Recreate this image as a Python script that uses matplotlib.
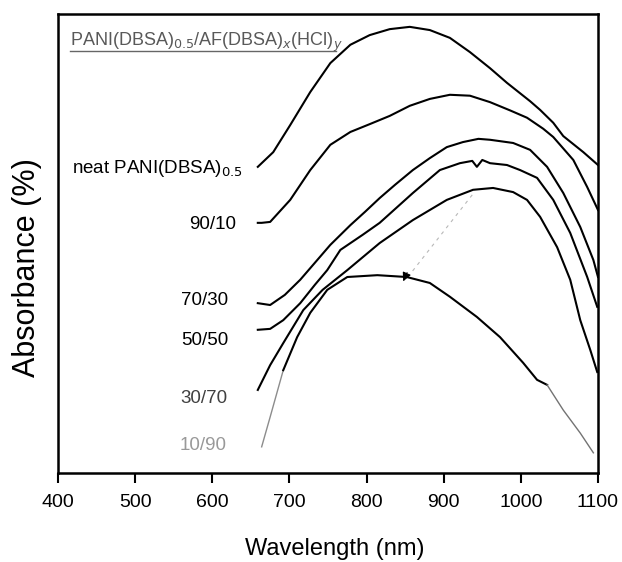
import matplotlib
matplotlib.use("Agg")
import matplotlib.pyplot as plt

# ---------------- data (wavelength in nm, absorbance in arbitrary % units) ----------------
neat_nm = [659, 679, 701, 727, 753, 779, 804, 830, 856, 882, 908, 934, 960, 982, 1012, 1025, 1042, 1055, 1081, 1100]
neat_abs = [66.7, 69.9, 75.8, 83.0, 89.3, 93.3, 95.4, 96.7, 97.2, 96.5, 94.8, 91.7, 88.2, 85.0, 81.0, 79.1, 76.3, 73.4, 69.9, 67.1]

r90_nm = [659, 664, 675, 701, 727, 753, 779, 804, 830, 856, 882, 908, 934, 960, 986, 1008, 1029, 1042, 1055, 1068, 1086, 1100]
r90_abs = [54.5, 54.5, 54.7, 59.5, 66.0, 71.5, 74.3, 76.0, 77.8, 80.0, 81.5, 82.4, 82.2, 80.8, 79.0, 77.4, 75.0, 73.2, 70.7, 68.2, 62.3, 57.3]

r70_nm = [659, 675, 694, 714, 733, 753, 779, 798, 817, 837, 860, 882, 904, 925, 945, 960, 990, 1012, 1034, 1055, 1077, 1094, 1100]
r70_abs = [37.0, 36.6, 38.8, 42.1, 45.8, 49.7, 54.0, 56.9, 59.9, 62.8, 66.0, 68.6, 71.0, 72.1, 72.8, 72.6, 71.9, 70.4, 66.7, 61.0, 53.6, 46.4, 42.7]

r50_nm = [659, 675, 692, 714, 733, 749, 766, 795, 817, 860, 895, 921, 937, 943, 950, 960, 982, 999, 1021, 1042, 1064, 1086, 1099]
r50_abs = [31.2, 31.4, 33.3, 37.0, 41.0, 44.2, 48.6, 51.9, 54.5, 61.0, 66.0, 67.5, 68.0, 66.7, 68.2, 67.5, 67.1, 66.0, 64.3, 59.5, 52.3, 42.7, 36.2]

r30_nm = [659, 675, 692, 718, 743, 775, 817, 860, 904, 938, 964, 990, 1008, 1025, 1047, 1064, 1077, 1090, 1099]
r30_abs = [18.1, 23.5, 28.3, 35.5, 39.9, 44.2, 50.1, 55.1, 59.5, 61.7, 62.1, 61.2, 59.5, 55.8, 49.2, 42.1, 33.3, 26.8, 22.0]

r10_nm = [664, 675, 692, 710, 727, 749, 775, 814, 852, 882, 908, 943, 973, 1003, 1021, 1034, 1055, 1077, 1094]
r10_abs = [5.7, 12.2, 22.4, 29.6, 34.9, 39.9, 42.7, 43.1, 42.7, 41.4, 38.4, 34.0, 29.6, 24.0, 20.3, 19.2, 13.7, 8.7, 4.4]

curve_labels = ["neat PANI(DBSA)$_{0.5}$", "90/10", "70/30", "50/50", "30/70", "10/90"]
label_nm = [640, 631, 621, 621, 620, 618]
label_abs = [65.4, 53.2, 36.6, 27.9, 15.3, 5.0]

title_text = "PANI(DBSA)$_{0.5}$/AF(DBSA)$_{x}$(HCl)$_{y}$"
arrow_tail = (937, 60.6)
arrow_head = (846, 41.2)

xticks = [400, 500, 600, 700, 800, 900, 1000, 1100]

FONT = "Liberation Sans"

fig = plt.figure(figsize=(6.22, 5.62), dpi=100)
ax = fig.add_axes([58 / 622, 1 - 473 / 562, 540 / 622, 459 / 562])

lw = 1.5
for xs, ys in [(neat_nm, neat_abs), (r90_nm, r90_abs), (r70_nm, r70_abs),
               (r50_nm, r50_abs), (r30_nm, r30_abs)]:
    ax.plot(xs, ys, color="black", lw=lw)
# 10/90: faint ends, dark middle (as in the scanned original)
ax.plot(r10_nm[:3], r10_abs[:3], color="0.55", lw=1.0)
ax.plot(r10_nm[2:16], r10_abs[2:16], color="black", lw=lw)
ax.plot(r10_nm[15:], r10_abs[15:], color="0.45", lw=1.0)

ax.set_xlim(400, 1100)
ax.set_ylim(0, 100)
ax.set_xticks(xticks)
ax.set_xticklabels([str(t) for t in xticks], fontfamily=FONT, fontsize=14)
ax.set_yticks([])
ax.tick_params(axis="x", direction="out", length=7, width=1.5, pad=8, colors="black")
for s in ax.spines.values():
    s.set_linewidth(1.8)
    s.set_color("black")

fig.text(335 / 622, 1 - 549 / 562, "Wavelength (nm)", ha="center", va="center",
         fontfamily=FONT, fontsize=17)
fig.text(27 / 622, 1 - 268 / 562, "Absorbance (%)", ha="center", va="center",
         rotation=90, fontfamily=FONT, fontsize=22)

colors = ["black", "black", "black", "black", "0.25", "0.6"]
for t, x, y, c in zip(curve_labels, label_nm, label_abs, colors):
    ax.text(x, y, t, ha="right", va="baseline", fontfamily=FONT, fontsize=13.5, color=c)

ax.text(0.022, 0.93, title_text, transform=ax.transAxes, ha="left", va="baseline",
        fontfamily=FONT, fontsize=13, color="0.35")
ax.plot([0.022, 0.515], [0.92, 0.92], transform=ax.transAxes, color="0.4", lw=1.0)

# faint dashed guide with small arrowhead
ax.plot([arrow_tail[0], arrow_head[0] + 8], [arrow_tail[1], arrow_head[1] + 1.6],
        color="0.72", lw=0.8, ls=(0, (3, 4)))
ax.annotate("", xy=arrow_head, xytext=(arrow_head[0] + 8, arrow_head[1] + 3),
            arrowprops=dict(arrowstyle="-|>", color="black", lw=0.8, mutation_scale=13))

fig.savefig("out.png", dpi=100)
